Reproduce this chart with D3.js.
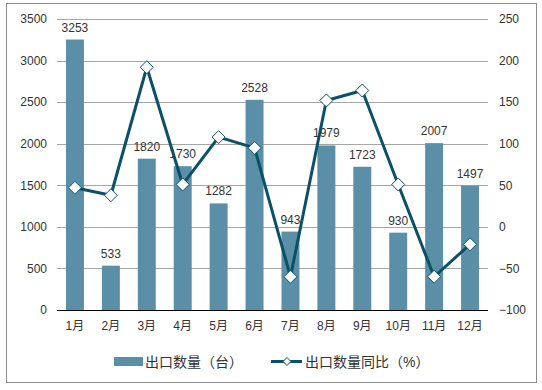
<!DOCTYPE html>
<html><head><meta charset="utf-8">
<script src="https://cdn.jsdelivr.net/npm/d3@7"></script>
<style>body{margin:0;background:#fff}svg{display:block;font-family:Arial,"Liberation Sans","Noto Sans CJK SC",sans-serif}</style>
</head><body><svg id="c" width="542" height="390"></svg>
<script>
const months = ["1月","2月","3月","4月","5月","6月","7月","8月","9月","10月","11月","12月"];
const exportQty = [3253,533,1820,1730,1282,2528,943,1979,1723,930,2007,1497];
const yoyPct = [47,38,192,51,108,95,-60,152,164,51,-60,-21];
const leftTicks = [0,500,1000,1500,2000,2500,3000,3500];
const rightTicks = [-100,-50,0,50,100,150,200,250];
const barName = "出口数量（台）";
const lineName = "出口数量同比（%）";

const svg = d3.select("#c");
const L = 57, R = 488, T = 19, B = 310;
const barColor = "#5b8fa7", lineColor = "#0c5068";

svg.append("rect").attr("x",6.5).attr("y",3.5).attr("width",530).attr("height",379)
  .attr("fill","#fff").attr("stroke","#8c8c8c").attr("stroke-width",1);

const x = d3.scaleBand().domain(months).range([L,R]).paddingInner(0.5).paddingOuter(0.25);
const yL = d3.scaleLinear().domain([0,3500]).range([B,T]);
const yR = d3.scaleLinear().domain([-100,250]).range([B,T]);

// gridlines
svg.append("g").selectAll("line").data(leftTicks.slice(1)).join("line")
  .attr("x1",L).attr("x2",R).attr("y1",d=>Math.round(yL(d))+0.5).attr("y2",d=>Math.round(yL(d))+0.5)
  .attr("stroke","#a6a6a6").attr("stroke-width",1);

// left axis
const la = svg.append("g").attr("transform",`translate(${L},0)`)
  .call(d3.axisLeft(yL).tickValues(leftTicks).tickSize(0).tickPadding(10).tickFormat(d3.format("d")));
la.select(".domain").remove();
la.selectAll("text").attr("font-size",12).attr("fill","#333").style("font-family","Arial,'Liberation Sans',sans-serif");

// right axis
const ra = svg.append("g").attr("transform",`translate(${R},0)`)
  .call(d3.axisRight(yR).tickValues(rightTicks).tickSize(0).tickPadding(11).tickFormat(d3.format("d")));
ra.select(".domain").remove();
ra.selectAll("text").attr("font-size",12).attr("fill","#333").style("font-family","Arial,'Liberation Sans',sans-serif");

// bars
svg.append("g").selectAll("rect").data(exportQty).join("rect")
  .attr("x",(d,i)=>x(months[i])).attr("width",x.bandwidth())
  .attr("y",d=>yL(d)).attr("height",d=>B-yL(d)).attr("fill",barColor);

// bar labels
svg.append("g").selectAll("text").data(exportQty).join("text")
  .attr("x",(d,i)=>x(months[i])+x.bandwidth()/2).attr("y",d=>yL(d)-8)
  .attr("text-anchor","middle").attr("font-size",12).attr("fill","#333").text(d=>d);

// baseline
svg.append("line").attr("x1",L).attr("x2",R).attr("y1",B+0.5).attr("y2",B+0.5).attr("stroke","#000").attr("stroke-width",1);

// x axis labels
const xa = svg.append("g").attr("transform",`translate(0,${B})`)
  .call(d3.axisBottom(x).tickSize(0).tickPadding(11));
xa.select(".domain").remove();
xa.selectAll("text").attr("font-size",12).attr("fill","#333").style("font-family","Arial,'Noto Sans CJK SC',sans-serif");

// line
const cx = i => x(months[i])+x.bandwidth()/2;
const line = d3.line().x((d,i)=>cx(i)).y(d=>yR(d));
svg.append("path").datum(yoyPct).attr("d",line).attr("fill","none")
  .attr("stroke",lineColor).attr("stroke-width",3).attr("stroke-linejoin","round");

svg.append("g").selectAll("path").data(yoyPct).join("path")
  .attr("d",d=>{const s=6.5;return `M0,${-s}L${s},0L0,${s}L${-s},0Z`;})
  .attr("transform",(d,i)=>`translate(${cx(i)},${yR(d)})`)
  .attr("fill","#fff").attr("stroke",lineColor).attr("stroke-width",1);

// legend
const lg = svg.append("g");
lg.append("rect").attr("x",114).attr("y",357).attr("width",29).attr("height",9).attr("fill",barColor);
lg.append("text").attr("x",145).attr("y",367).attr("font-size",14).attr("fill","#333").text(barName);
lg.append("line").attr("x1",271).attr("x2",302).attr("y1",361.5).attr("y2",361.5).attr("stroke",lineColor).attr("stroke-width",3);
lg.append("path").attr("d","M0,-4L4,0L0,4L-4,0Z").attr("transform","translate(287,361.5)")
  .attr("fill","#fff").attr("stroke",lineColor).attr("stroke-width",1);
lg.append("text").attr("x",305).attr("y",367).attr("font-size",14).attr("fill","#333").text(lineName);
</script></body></html>
